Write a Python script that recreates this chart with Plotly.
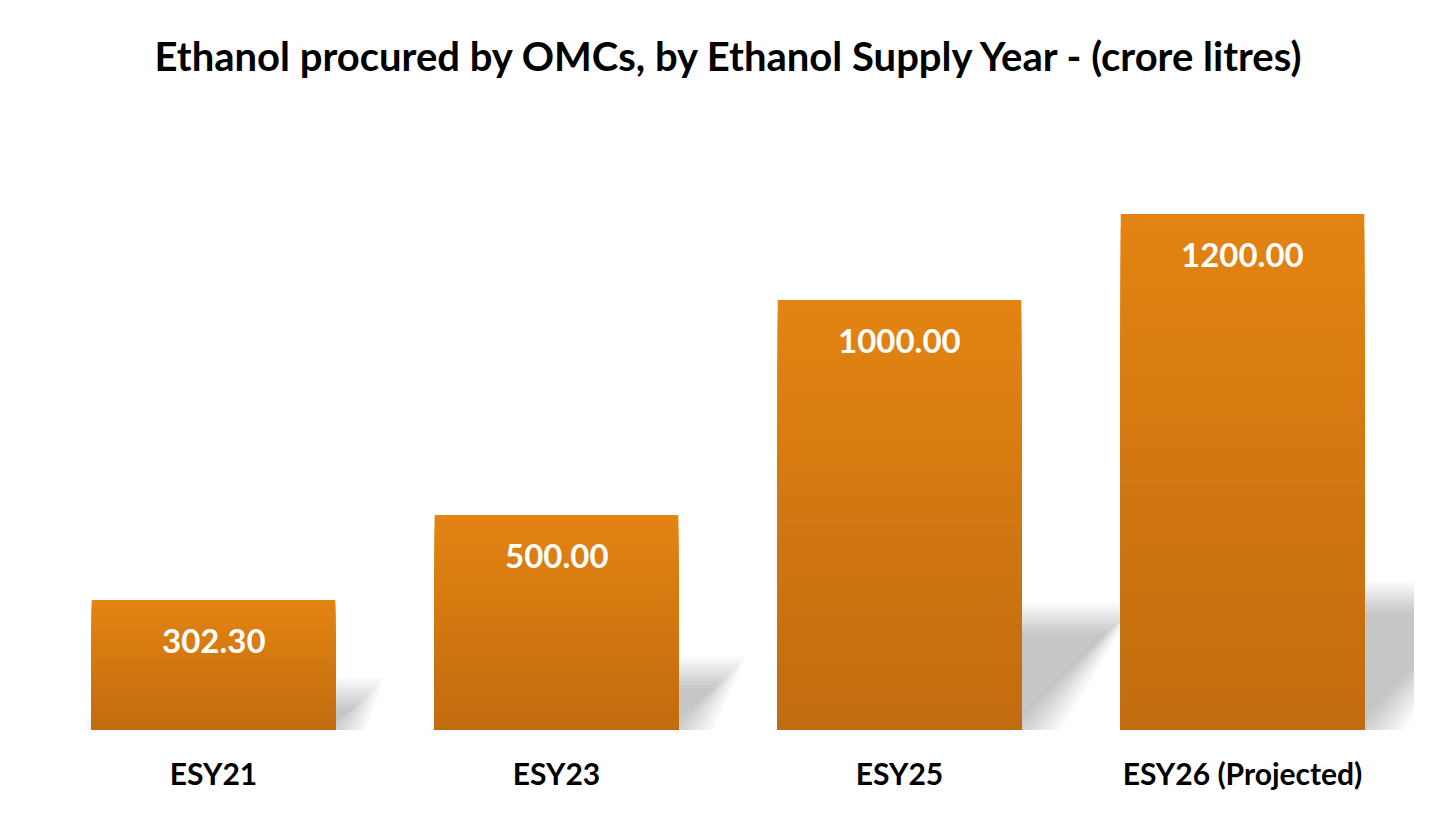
import plotly.graph_objects as go

# ==========================================================
# DATA
# ==========================================================
years = ["ESY21", "ESY23", "ESY25", "ESY26 (Projected)"]
procured = [302.30, 500.00, 1000.00, 1200.00]
labels = ["302.30", "500.00", "1000.00", "1200.00"]

TITLE = "Ethanol procured by OMCs, by Ethanol Supply Year - (crore litres)"
FONT = "Lato"

# ==========================================================
# LAYOUT CONSTANTS (page adds an 8px body margin)
# ==========================================================
W, H = 1456, 819
M_L, M_R, M_T, M_B = 34, 50, 102, 97
Y_MAX = 1442
BARGAP = 0.29
TOP_RGB = (227, 131, 18)
BOT_RGB = (193, 108, 16)
N_STEPS = 40

px_per_x = (W - M_L - M_R) / len(years)
px_per_y = (H - M_T - M_B) / Y_MAX

fig = go.Figure()

# gradient bars: overlay progressively shorter bars, darker towards the base
for k in range(N_STEPS):
    t = k / (N_STEPS - 1)
    r = round(TOP_RGB[0] + (BOT_RGB[0] - TOP_RGB[0]) * t)
    g = round(TOP_RGB[1] + (BOT_RGB[1] - TOP_RGB[1]) * t)
    b = round(TOP_RGB[2] + (BOT_RGB[2] - TOP_RGB[2]) * t)
    frac = (N_STEPS - k) / N_STEPS
    fig.add_trace(go.Bar(
        x=years,
        y=[v * frac for v in procured],
        marker=dict(color=f"rgb({r},{g},{b})", line=dict(width=0)),
        hoverinfo="skip" if k else "x+y",
        showlegend=False,
    ))

# soft perspective shadows behind each bar
half = (1 - BARGAP) / 2
for i, v in enumerate(procured):
    h = 0.25 * v
    d = 0.9 * h * px_per_y / px_per_x
    for s in range(10):
        e = -12 + s * 3.5
        ex = e / px_per_x
        ey = e / px_per_y
        xl, xr = i - half, i + half
        path = (f"M {xl - ex},{-ey - 30} L {xr + ex},{-ey - 30} "
                f"L {xr + d + ex},{h + ey} L {xl + d - ex},{h + ey} Z")
        fig.add_shape(type="path", path=path, xref="x", yref="y",
                      fillcolor="rgba(0,0,0,0.025)", line=dict(width=0),
                      layer="below")

# value labels inside the top of each bar
for yr, v, lab in zip(years, procured, labels):
    fig.add_annotation(
        x=yr, y=v, text=f"<b>{lab}</b>", showarrow=False,
        yanchor="middle", yshift=-40,
        font=dict(family=FONT, size=33, color="white"),
    )

fig.update_layout(
    width=W, height=H,
    barmode="overlay",
    bargap=BARGAP,
    plot_bgcolor="white",
    paper_bgcolor="white",
    margin=dict(l=M_L, r=M_R, t=M_T, b=M_B),
    title=dict(
        text=f"<b>{TITLE}</b>",
        x=(M_L + (W - M_L - M_R) / 2) / W, xanchor="center",
        y=1 - 49 / H, yanchor="middle", yref="container",
        font=dict(family=FONT, size=40, color="black"),
    ),
    showlegend=False,
)

fig.update_xaxes(
    range=[-0.5, len(years) - 0.5],
    showline=False, showgrid=False, zeroline=False, ticks="",
    tickfont=dict(family=FONT, size=30, color="black", weight="bold"),
    ticklabelstandoff=24,
)
fig.update_yaxes(
    range=[0, Y_MAX], visible=False, showgrid=False, zeroline=False,
)

fig.write_html("out.html")
